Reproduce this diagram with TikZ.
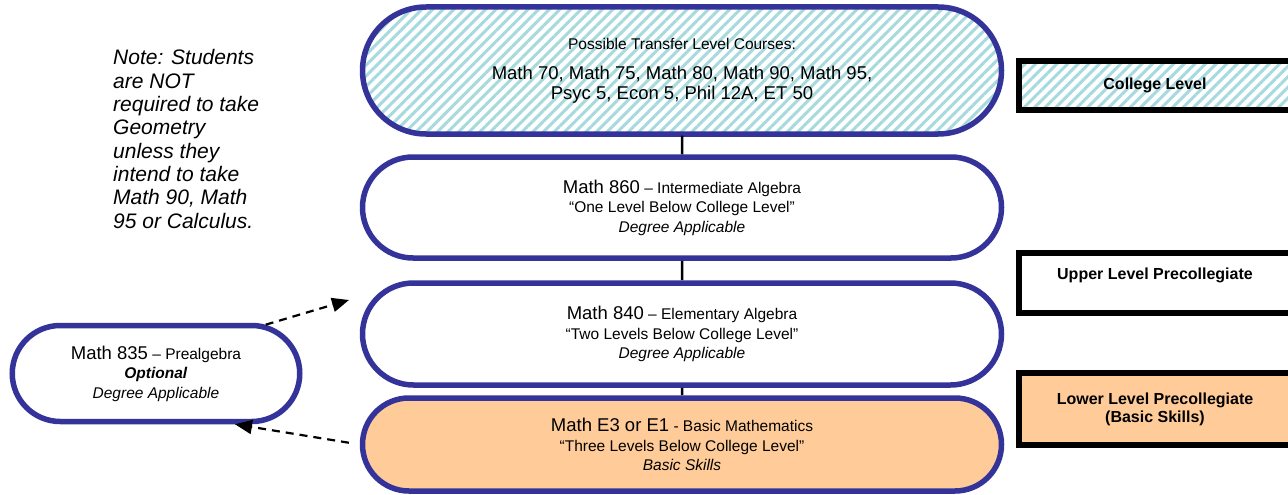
\documentclass[tikz,border=0pt]{standalone}
\usepackage{fontspec}
\setmainfont{Liberation Sans}
\usetikzlibrary{positioning}
\usetikzlibrary{shapes.misc}
\usetikzlibrary{patterns.meta}
\usetikzlibrary{arrows.meta}
\usepackage{xcolor}
\definecolor{navy}{RGB}{51,51,153}
\definecolor{hatch}{RGB}{166,218,222}
\definecolor{peach}{RGB}{255,204,153}
\newcommand{\bigsz}{\fontsize{18.5}{19.5}\selectfont}
\newcommand{\smallsz}{\fontsize{15.5}{19.5}\selectfont}

\tikzset{
 course/.style={rounded rectangle, draw=navy, line width=5.5pt, align=center, font=\smallsz, inner sep=0pt, minimum width=639pt},
 hatched/.style={pattern={Lines[angle=45,distance=7.5pt,line width=3pt]}, pattern color=hatch},
 levelbox/.style={rectangle, draw=black, line width=6pt, inner sep=0pt, minimum width=272pt, align=center, font=\fontsize{16}{18}\selectfont\bfseries},
 link/.style={black, line width=2.5pt},
 dasharrow/.style={dash pattern=on 8pt off 6pt, line width=2.2pt, -{Triangle[length=17pt,width=14pt]}}
}

\begin{document}
\begin{tikzpicture}[x=1pt,y=-1pt]

\fill[white] (0,0) rectangle (1288,495);
\useasboundingbox (0,0) rectangle (1288,495);

\node[course, hatched, minimum height=127pt] (transfer) at (682,70.5) {Possible Transfer Level Courses:\\[11pt] {\bigsz Math 70, Math 75, Math 80, Math 90, Math 95,}\\ {\bigsz Psyc 5, Econ 5, Phil 12A, ET 50}};

\node[course, minimum height=101pt] (m860) at (682,207.5) {{\bigsz Math 860} – Intermediate Algebra\\ “One Level Below College Level”\\ \textit{Degree Applicable}};

\node[course, minimum height=102pt] (m840) at (682,334) {{\bigsz Math 840} – Elementary Algebra\\ “Two Levels Below College Level”\\ \textit{Degree Applicable}};

\node[course, fill=peach, minimum height=93pt] (mE3) at (682,444.5) {{\bigsz Math E3 or E1} - Basic Mathematics\\ “Three Levels Below College Level”\\ \textit{Basic Skills}};

\node[course, minimum width=287.5pt, minimum height=96pt] (m835) at (156,373.5) {{\bigsz Math 835} – Prealgebra\\ \textbf{\textit{Optional}}\\ \textit{Degree Applicable}};

\draw[link] (transfer) -- (m860);
\draw[link] (m860) -- (m840);
\draw[link] (m840) -- (mE3);

\coordinate (uptip) at (349,300);
\draw[dasharrow] (m835.24) -- (uptip);
\draw[dasharrow, shorten <=11pt] (mE3.west) -- ([xshift=79pt]m835.south);

\node[levelbox, hatched, minimum height=49pt] (college) at (1155,85.5) {College Level};
\node[levelbox, minimum height=60pt] (upper) at (1155,283) {};
\node[font=\fontsize{16}{18}\selectfont\bfseries] (uppertext) at ([yshift=8pt]upper.center) {Upper Level Precollegiate};
\node[levelbox, fill=peach, minimum height=72pt] (lower) at (1155,409) {Lower Level Precollegiate\\(Basic Skills)};

\node[anchor=north west, align=left, inner sep=0pt, font=\fontsize{21}{23.3}\selectfont\itshape] (note) at (113,49.5) {Note: Students\\are NOT\\required to take\\Geometry\\unless they\\intend to take\\Math 90, Math\\95 or Calculus.};

\end{tikzpicture}
\end{document}
